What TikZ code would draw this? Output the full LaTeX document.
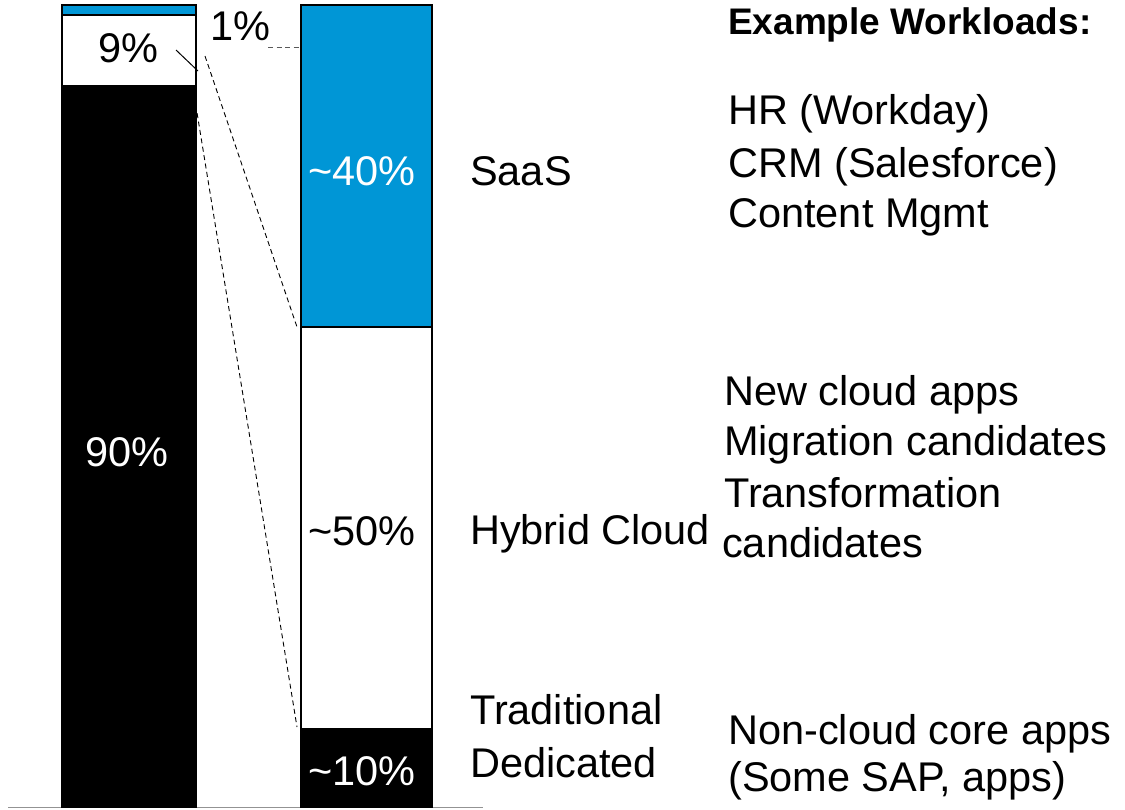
\documentclass[tikz,border=0pt]{standalone}
\usepackage{fontspec}
\setmainfont{Liberation Sans}
\definecolor{sblue}{RGB}{0,150,214}
\newcommand\bigtxt{\fontsize{41.5pt}{50pt}\selectfont}
\newcommand\headtxt{\fontsize{37pt}{44pt}\selectfont\bfseries}
\begin{document}
\begin{tikzpicture}[x=1pt,y=-1pt,
  barline/.style={draw=black,line width=2.5pt},
  lbl/.style={inner sep=0pt,anchor=base west,font=\bigtxt,text=black},
  pct/.style={inner sep=0pt,anchor=base,font=\bigtxt},
  dashline/.style={black,line width=0.9pt,dash pattern=on 5pt off 3.5pt},
  leader/.style={black,line width=1pt}]
\useasboundingbox (0,0) rectangle (1125,809);
% baseline
\draw[gray!85,line width=1.6pt] (8,807.5) -- (483,807.5);
% left bar
\fill[sblue] (62,5) rectangle (196,15);
\fill[white] (62,15) rectangle (196,85);
\fill[black] (62,85) rectangle (196,807);
\draw[barline] (62,5) rectangle (196,807);
\draw[barline] (62,15) -- (196,15);
% right bar
\fill[sblue] (301,5) rectangle (432,327);
\fill[white] (301,327) rectangle (432,728);
\fill[black] (301,728) rectangle (432,807);
\draw[barline] (301,5) rectangle (432,807);
\draw[barline] (301,327) -- (432,327);
% coordinates for connectors
\coordinate (l9a) at (176,50);
\coordinate (l9b) at (198,71);
\coordinate (d1a) at (205,56);
\coordinate (d1b) at (297,327);
\coordinate (d2a) at (193,88);
\coordinate (d2b) at (297,727);
\coordinate (p1a) at (268,47);
\coordinate (p1b) at (300,47);
% percentages
\node[pct,text=black] (n9) at (128,62) {9\%};
\node[pct,text=white] (n90) at (127,466) {90\%};
\node[lbl] (n1) at (210,40) {1\%};
\node[pct,text=white] (n40) at (362,185) {\textasciitilde40\%};
\node[pct,text=black] (n50) at (362,545) {\textasciitilde50\%};
\node[pct,text=white] (n10) at (362,785) {\textasciitilde10\%};
% connectors
\draw[leader] (l9a) -- (l9b);
\draw[dashline] (d1a) -- (d1b);
\draw[dashline] (d2a) -- (d2b);
\draw[dashline,gray!70!black] (p1a) -- (p1b);
% category labels
\node[lbl] (saas) at (470,185) {SaaS};
\node[lbl] (hyb) at (470,544) {Hybrid Cloud};
\node[lbl] (trad1) at (470,724) {Traditional};
\node[lbl] (trad2) at (470,777) {Dedicated};
% workloads
\node[inner sep=0pt,anchor=base west,font=\headtxt] (head) at (728,34) {Example Workloads:};
\node[lbl] (w1) at (728,124) {HR (Workday)};
\node[lbl] (w2) at (728,177) {CRM (Salesforce)};
\node[lbl] (w3) at (728,227) {Content Mgmt};
\node[lbl] (h1) at (724,405) {New cloud apps};
\node[lbl] (h2) at (724,455) {Migration candidates};
\node[lbl] (h3) at (724,507) {Transformation};
\node[lbl] (h4) at (722,557) {candidates};
\node[lbl] (t1) at (728,744) {Non-cloud core apps};
\node[lbl] (t2) at (728,791) {(Some SAP, apps)};
\end{tikzpicture}
\end{document}
